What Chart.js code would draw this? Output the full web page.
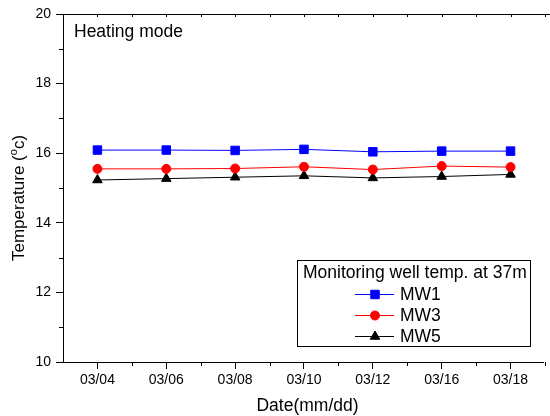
<!DOCTYPE html>
<html><head><meta charset="utf-8">
<script src="https://cdn.jsdelivr.net/npm/chart.js@4.4.0/dist/chart.umd.min.js"></script>
<style>html,body{margin:0;padding:0;background:#fff;overflow:hidden}#wrap{width:550px;height:416px;position:relative}</style>
</head><body><div id="wrap"><canvas id="c" width="550" height="416"></canvas></div>
<script>
const dates = ['03/04','03/06','03/08','03/10','03/12','03/16','03/18'];
const mw1 = [16.09,16.09,16.08,16.11,16.04,16.06,16.06];
const mw3 = [15.55,15.55,15.56,15.61,15.53,15.63,15.60];
const mw5 = [15.23,15.27,15.31,15.35,15.29,15.33,15.39];
const yTicks = [10,12,14,16,18,20];
const seriesNames = ['MW1','MW3','MW5'];
const chartTitle = 'Heating mode';
const legendTitle = 'Monitoring well temp. at 37m';
const xTitle = 'Date(mm/dd)';
const yTitleA = 'Temperature (', yTitleSup = 'o', yTitleB = 'c)';

const FONT = '"Liberation Sans", Arial, sans-serif';
const toXY = arr => arr.map((v,i)=>({x:i,y:v}));

const styles = [
  {color:'#0000ff', pointStyle:'rect', radius:6},
  {color:'#ff0000', pointStyle:'circle', radius:4.5},
  {color:'#000000', pointStyle:'triangle', radius:5.5}
];
const seriesData = [mw1, mw3, mw5];

const datasets = seriesData.map((d,k)=>({
  label: seriesNames[k],
  data: toXY(d),
  borderColor: styles[k].color,
  backgroundColor: styles[k].color,
  borderWidth: 1,
  pointStyle: styles[k].pointStyle,
  pointRadius: styles[k].radius,
  pointBorderWidth: 1,
  pointBorderColor: styles[k].color,
  pointBackgroundColor: styles[k].color,
  tension: 0
}));

function drawMarker(ctx, style, r, x, y, color){
  ctx.save();
  ctx.fillStyle = color; ctx.strokeStyle = color; ctx.lineWidth = 1;
  ctx.beginPath();
  if (style === 'rect') {
    const s = Math.SQRT1_2 * r;
    ctx.rect(x - s, y - s, 2*s, 2*s);
  } else if (style === 'circle') {
    ctx.arc(x, y, r, 0, Math.PI*2);
  } else {
    const w = r * Math.sqrt(3) / 2;
    ctx.moveTo(x, y - r);
    ctx.lineTo(x + w, y + r/2);
    ctx.lineTo(x - w, y + r/2);
    ctx.closePath();
  }
  ctx.fill(); ctx.stroke();
  ctx.restore();
}

const decor = {
  id: 'decor',
  afterDraw(chart){
    const ctx = chart.ctx;
    const xs = chart.scales.x, ys = chart.scales.y;
    const a = chart.chartArea;
    ctx.save();
    ctx.strokeStyle = '#000'; ctx.lineWidth = 1;
    // top axis line
    ctx.beginPath(); ctx.moveTo(a.left, a.top + 0.5); ctx.lineTo(chart.width, a.top + 0.5); ctx.stroke();
    // x minor ticks (bottom, outward) and top ticks (inward)
    for (let i = 0; i < dates.length; i++) {
      const pm = Math.round(xs.getPixelForValue(i)) + 0.5;
      const pn = Math.round(xs.getPixelForValue(i + 0.5)) + 0.5;
      ctx.beginPath();
      if (pn < chart.width) { ctx.moveTo(pn, a.bottom); ctx.lineTo(pn, a.bottom + 4); ctx.moveTo(pn, a.top); ctx.lineTo(pn, a.top + 3); }
      ctx.moveTo(pm, a.top); ctx.lineTo(pm, a.top + 3);
      ctx.stroke();
    }
    // y minor ticks
    for (let k = 0; k < yTicks.length - 1; k++) {
      const v = (yTicks[k] + yTicks[k+1]) / 2;
      const py = Math.round(ys.getPixelForValue(v)) + 0.5;
      ctx.beginPath(); ctx.moveTo(a.left - 4, py); ctx.lineTo(a.left, py); ctx.stroke();
    }
    ctx.fillStyle = '#000';
    // chart title
    ctx.font = '17.5px ' + FONT;
    ctx.textAlign = 'left'; ctx.textBaseline = 'alphabetic';
    ctx.fillText(chartTitle, 74, 37);
    // x title
    ctx.textAlign = 'center';
    ctx.fillText(xTitle, (a.left + 552) / 2, 411);
    // y title with superscript
    ctx.save();
    ctx.translate(24, 198);
    ctx.rotate(-Math.PI/2);
    ctx.textAlign = 'left';
    const big = '17px ' + FONT, small = '11px ' + FONT;
    ctx.font = big;
    const wA = ctx.measureText(yTitleA).width;
    const wB = ctx.measureText(yTitleB).width;
    ctx.font = small;
    const wS = ctx.measureText(yTitleSup).width;
    const total = wA + wS + wB;
    let sx = -total/2;
    ctx.font = big;
    ctx.fillText(yTitleA, sx, 0); sx += wA;
    ctx.font = small;
    ctx.fillText(yTitleSup, sx, -7); sx += wS;
    ctx.font = big;
    ctx.fillText(yTitleB, sx, 0);
    ctx.restore();
    // legend box
    const L = {x:297.5, y:260.5, w:233, h:86};
    ctx.fillStyle = '#fff';
    ctx.fillRect(L.x, L.y, L.w, L.h);
    ctx.strokeStyle = '#000'; ctx.lineWidth = 1;
    ctx.strokeRect(L.x, L.y, L.w, L.h);
    ctx.fillStyle = '#000';
    ctx.font = '17.5px ' + FONT;
    ctx.textAlign = 'left';
    ctx.fillText(legendTitle, 303, 278);
    const rowY = [294, 315, 336];
    const baseY = [300, 321, 342];
    chart.data.datasets.forEach((ds, k) => {
      ctx.strokeStyle = ds.borderColor; ctx.lineWidth = 1;
      ctx.beginPath(); ctx.moveTo(355, rowY[k] + 0.5); ctx.lineTo(394, rowY[k] + 0.5); ctx.stroke();
      drawMarker(ctx, ds.pointStyle, ds.pointRadius, 375, rowY[k] + 0.5, ds.pointBackgroundColor);
      ctx.fillStyle = '#000';
      ctx.fillText(ds.label, 400, baseY[k]);
    });
    ctx.restore();
  }
};

new Chart(document.getElementById('c'), {
  type: 'line',
  data: { datasets },
  options: {
    responsive: false,
    devicePixelRatio: 1,
    animation: false,
    layout: { padding: { top: 14, right: 0, left: 0, bottom: 0 } },
    plugins: { legend: { display: false }, tooltip: { enabled: false } },
    scales: {
      x: {
        type: 'linear',
        min: -0.5,
        max: 6.5 - 2/69.86,
        afterBuildTicks: s => { s.ticks = dates.map((d,i)=>({value:i})); },
        afterFit: s => { s.height = 54; },
        ticks: { callback: v => dates[v] ?? '', font: { size: 14, family: FONT }, color: '#000', padding: 3, maxRotation: 0, autoSkip: false },
        grid: { display: true, drawOnChartArea: false, drawTicks: true, tickLength: 7, tickColor: '#000', tickWidth: 1 },
        border: { display: true, color: '#000', width: 1 }
      },
      y: {
        min: 10, max: 20,
        afterBuildTicks: s => { s.ticks = yTicks.map(v=>({value:v})); },
        afterFit: s => { s.width = 63; },
        ticks: { font: { size: 14, family: FONT }, color: '#000', padding: 5 },
        grid: { display: true, drawOnChartArea: false, drawTicks: true, tickLength: 7, tickColor: '#000', tickWidth: 1 },
        border: { display: true, color: '#000', width: 1 }
      }
    }
  },
  plugins: [decor]
});
</script></body></html>
